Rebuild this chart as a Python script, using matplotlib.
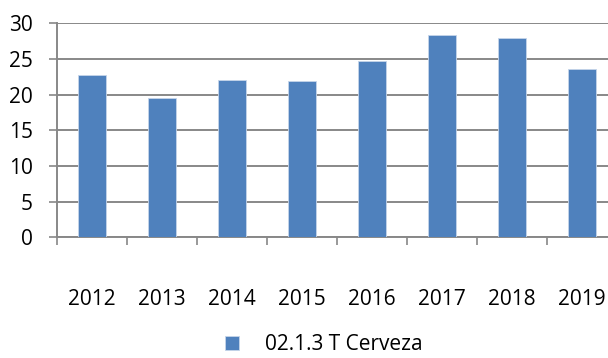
import matplotlib.pyplot as plt
import numpy as np

years = ['2012', '2013', '2014', '2015', '2016', '2017', '2018', '2019']
cerveza = [22.7, 19.5, 22.0, 21.9, 24.7, 28.4, 27.95, 23.65]
y_ticks = [0, 5, 10, 15, 20, 25, 30]
series_name = '02.1.3 T Cerveza'

plt.rcParams['font.family'] = ['Open Sans', 'DejaVu Sans']

fig = plt.figure(figsize=(6.08, 3.58), dpi=100)
# axis runs a little past the right edge of the figure
ax = fig.add_axes([57 / 608, 1 - 237.3 / 358, 560 / 608, 214 / 358])

x = np.arange(len(years))
bars = ax.bar(x, cerveza, width=0.4, color='#4F81BD', edgecolor='#C6D5EA',
              linewidth=0.6, label=series_name, zorder=3)

ax.set_xlim(-0.5, len(years) - 0.5)
ax.set_ylim(0, 30)
ax.set_yticks(y_ticks)
ax.yaxis.grid(True, color='#888888', linewidth=1.4, zorder=0)

ax.set_xticks(x)
ax.set_xticklabels(years, fontsize=15)
ax.set_xticks(np.arange(len(years) + 1) - 0.5, minor=True)
ax.tick_params(axis='x', which='major', length=0, pad=37)
ax.tick_params(axis='x', which='minor', length=5.5, width=1.2, color='#888888')
ax.tick_params(axis='y', length=6, width=1.2, color='#888888', labelsize=15, pad=11.5)

for side in ['top', 'right']:
    ax.spines[side].set_visible(False)
for side in ['left', 'bottom']:
    ax.spines[side].set_color('#888888')
    ax.spines[side].set_linewidth(1.4)

fig.legend(handles=[bars], labels=[series_name], loc='center',
           bbox_to_anchor=(323.5 / 608, 1 - 345 / 358), frameon=False,
           fontsize=15, handlelength=0.67, handleheight=0.67, handletextpad=1.25)

fig.savefig('out.png', dpi=100)
